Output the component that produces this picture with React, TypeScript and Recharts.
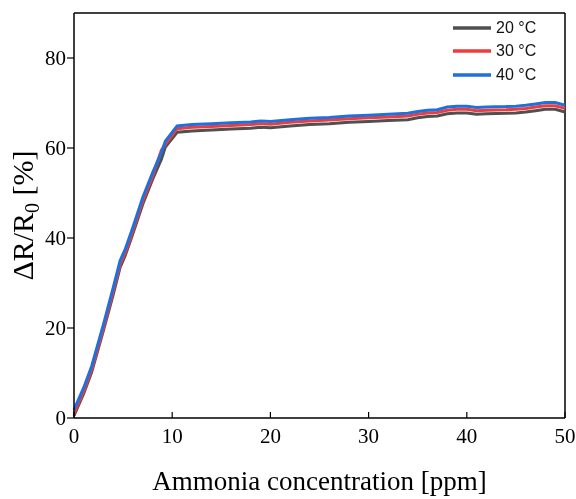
import React from "react";
import { LineChart, Line, XAxis, YAxis, Label, ReferenceLine } from "recharts";

const concentration = [0, 1, 1.8, 3, 4, 4.7, 5.2, 6, 7, 8, 8.9, 9.3, 10.5, 12, 14, 16, 18, 19, 20, 22, 24, 26, 28, 30, 32, 34, 35, 36, 37, 38, 39, 40, 41, 42, 44, 45, 46, 47, 48, 49, 50];
const t20 = [0.5, 5.5, 10.2, 19.5, 27.5, 33.5, 36, 41, 47.5, 53, 57.5, 60.2, 63.5, 63.8, 64.0, 64.2, 64.4, 64.6, 64.5, 64.9, 65.2, 65.4, 65.7, 65.9, 66.1, 66.3, 66.7, 67.0, 67.1, 67.6, 67.8, 67.8, 67.5, 67.6, 67.7, 67.8, 68.0, 68.3, 68.6, 68.6, 68.0];
const t30 = [1.0, 6.0, 10.7, 20.0, 28.2, 34.2, 36.6, 41.6, 48.2, 53.7, 59.5, 60.8, 64.3, 64.6, 64.8, 65.0, 65.2, 65.4, 65.3, 65.7, 66.0, 66.2, 66.5, 66.7, 66.9, 67.1, 67.5, 67.8, 67.9, 68.4, 68.6, 68.6, 68.3, 68.4, 68.5, 68.6, 68.8, 69.1, 69.4, 69.4, 68.8];
const t40 = [1.8, 6.8, 11.5, 20.8, 29.0, 35.0, 37.4, 42.4, 49.0, 54.5, 59.0, 61.5, 64.9, 65.2, 65.4, 65.6, 65.8, 66.0, 65.9, 66.3, 66.6, 66.8, 67.1, 67.3, 67.5, 67.7, 68.1, 68.4, 68.5, 69.1, 69.3, 69.3, 69.0, 69.1, 69.2, 69.3, 69.5, 69.8, 70.1, 70.1, 69.5];

const xTicks = [0, 10, 20, 30, 40, 50];
const yTicks = [0, 20, 40, 60, 80];
const seriesNames = ["20 °C", "30 °C", "40 °C"];
const seriesColors = ["#505050", "#ef3b3b", "#1f6fdd"];
const seriesKeys = ["s20", "s30", "s40"];

const data = concentration.map((c, i) => ({ c, s20: t20[i], s30: t30[i], s40: t40[i] }));

const serif = "Liberation Serif";
const sans = "'Liberation Sans', Arial, sans-serif";

const renderXTick = (props: any) => {
  const { x, y, payload } = props;
  return (
    <text
      key={`xt-${payload.value}`}
      x={x}
      y={y}
      dy="0.71em"
      textAnchor="middle"
      style={{ fontFamily: serif, fontSize: 21, fill: "#000" }}
    >
      {payload.value}
    </text>
  );
};

const renderYTick = (props: any) => {
  const { x, y, payload } = props;
  return (
    <text
      key={`yt-${payload.value}`}
      x={x}
      y={y}
      dy="0.355em"
      textAnchor="end"
      style={{ fontFamily: serif, fontSize: 21, fill: "#000" }}
    >
      {payload.value}
    </text>
  );
};

const YLabel = (props: any) => {
  const vb = props.viewBox || {};
  const cx = 25;
  const cy = vb.y + vb.height / 2;
  return (
    <text
      x={cx}
      y={cy}
      transform={`rotate(-90, ${cx}, ${cy})`}
      textAnchor="middle"
      style={{ fontFamily: serif, fontSize: 30, fill: "#000" }}
    >
      ΔR/R
      <tspan style={{ fontSize: 20 }} dy={6}>0</tspan>
      <tspan dy={-6}> [%]</tspan>
    </text>
  );
};

export default function App() {
  return (
    <div style={{ position: "fixed", top: 8, left: 8, width: 568, height: 491, fontFamily: serif }}>
      <LineChart
        width={568}
        height={491}
        data={data}
        margin={{ top: 5, right: 11, left: 0, bottom: 0 }}
      >
        <XAxis
          dataKey="c"
          type="number"
          domain={[0, 50]}
          ticks={xTicks}
          height={81}
          tickSize={-6}
          tickMargin={16}
          axisLine={{ stroke: "#000", strokeWidth: 1.5 }}
          tickLine={{ stroke: "#000", strokeWidth: 1.2 }}
          tick={renderXTick}
        >
          <Label
            value="Ammonia concentration [ppm]"
            position="insideBottom"
            offset={9}
            style={{ fontFamily: serif, fontSize: 27, fill: "#000" }}
          />
        </XAxis>
        <YAxis
          type="number"
          domain={[0, 90]}
          ticks={yTicks}
          width={66}
          tickSize={7}
          tickMargin={1}
          axisLine={{ stroke: "#000", strokeWidth: 1.5 }}
          tickLine={{ stroke: "#000", strokeWidth: 1.2 }}
          tick={renderYTick}
          label={<YLabel />}
        />
        <ReferenceLine y={90} stroke="#000" strokeWidth={1.5} />
        <ReferenceLine x={50} stroke="#000" strokeWidth={1.5} />
        {seriesKeys.map((k, i) => (
          <Line
            key={k}
            dataKey={k}
            name={seriesNames[i]}
            stroke={seriesColors[i]}
            strokeWidth={3}
            dot={false}
            isAnimationActive={false}
          />
        ))}
      </LineChart>
      <div
        style={{
          position: "absolute",
          top: 8,
          left: 445,
          fontFamily: sans,
          fontSize: 16,
          color: "#111",
        }}
      >
        {seriesNames.map((n, i) => (
          <div key={n} style={{ display: "flex", alignItems: "center", height: 23.5 }}>
            <svg width={38} height={6} style={{ marginRight: 5 }}>
              <line x1={0} y1={3} x2={38} y2={3} stroke={seriesColors[i]} strokeWidth={3.5} />
            </svg>
            <span>{n}</span>
          </div>
        ))}
      </div>
    </div>
  );
}
